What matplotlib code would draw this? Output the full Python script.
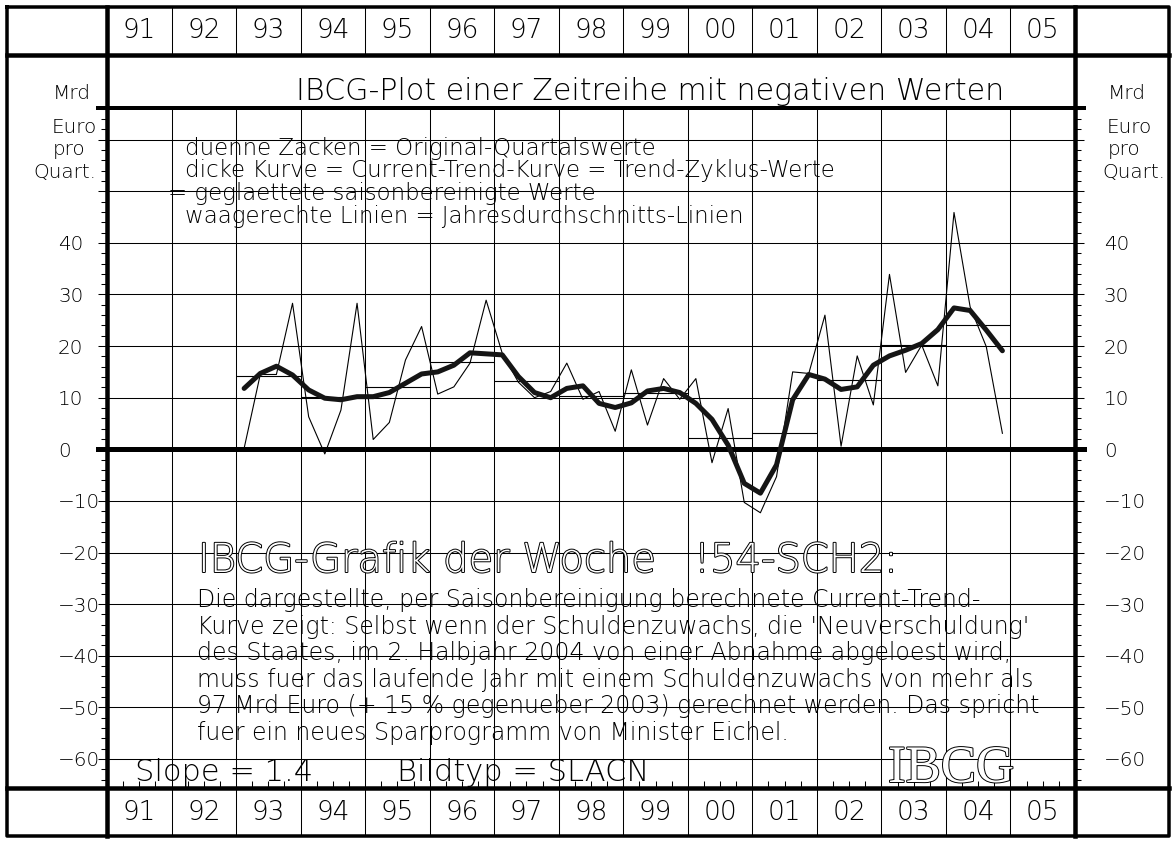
import numpy as np
import matplotlib
matplotlib.use('Agg')
import matplotlib.pyplot as plt
import matplotlib.patheffects as pe
from matplotlib import font_manager as fm
from matplotlib.lines import Line2D

# ---- data (Mrd Euro per quarter) ----
year_labels = ['91', '92', '93', '94', '95', '96', '97', '98', '99',
               '00', '01', '02', '03', '04', '05']
first_year = 1991
data_start = 1993

# thin line: original quarterly values 1993Q1 .. 2004Q4
orig = [0.2, 14.5, 14.5, 28.3,
        6.3, -0.9, 7.6, 28.3,
        1.9, 5.2, 17.3, 23.8,
        10.7, 12.1, 16.7, 28.9,
        18.6, 13.0, 10.0, 11.2,
        16.7, 9.7, 11.2, 3.5,
        15.4, 4.7, 13.7, 9.7,
        13.7, -2.6, 7.9, -10.3,
        -12.3, -5.3, 15.0, 14.7,
        26.0, 0.6, 18.1, 8.6,
        33.9, 14.9, 20.2, 12.3,
        45.9, 27.6, 19.9, 3.1]

# thick line: current trend curve
trend = [11.8, 14.7, 16.1, 14.4,
         11.5, 9.9, 9.6, 10.2,
         10.2, 11.0, 12.8, 14.6,
         15.0, 16.3, 18.7, 18.5,
         18.3, 14.1, 11.0, 10.0,
         11.8, 12.3, 8.9, 8.1,
         9.0, 11.3, 11.8, 11.0,
         8.9, 5.8, 0.8, -6.6,
         -8.5, -3.0, 9.6, 14.5,
         13.6, 11.6, 12.1, 16.3,
         18.1, 19.2, 20.5, 23.2,
         27.4, 26.9, 23.1, 19.1]

# annual averages
avg_years = [1993, 1994, 1995, 1996, 1997, 1998, 1999, 2000, 2001, 2002, 2003, 2004]
avg_vals = [14.3, 10.2, 12.0, 17.0, 13.3, 10.3, 10.9, 2.2, 3.1, 13.4, 20.2, 24.0]

ytick_vals = [-60, -50, -40, -30, -20, -10, 0, 10, 20, 30, 40, 50, 60]
ytick_labels = ['\u221260', '\u221250', '\u221240', '\u221230', '\u221220', '\u221210',
                '0', '10', '20', '30', '40', '', '']

legend_lines = ['duenne Zacken = Original-Quartalswerte',
                'dicke Kurve = Current-Trend-Kurve = Trend-Zyklus-Werte',
                '= geglaettete saisonbereinigte Werte',
                'waagerechte Linien = Jahresdurchschnitts-Linien']

body_lines = ['Die dargestellte, per Saisonbereinigung berechnete Current-Trend-',
              "Kurve zeigt: Selbst wenn der Schuldenzuwachs, die 'Neuverschuldung'",
              'des Staates, im 2. Halbjahr 2004 von einer Abnahme abgeloest wird,',
              'muss fuer das laufende Jahr mit einem Schuldenzuwachs von mehr als',
              '97 Mrd Euro (+ 15 % gegenueber 2003) gerechnet werden. Das spricht',
              'fuer ein neues Sparprogramm von Minister Eichel.']

unit_lines = ['Mrd', 'Euro', 'pro', 'Quart.']

# ---- layout helpers (pixel -> figure fraction) ----
W, H = 1176, 841
PT = 0.72  # points per pixel at dpi 100


def fx(x):
    return x / W


def fy(y):
    return 1 - y / H


def pick_light_font():
    # thin CAD-like look: take a light weight of an installed sans family if present
    for name in ['DejaVu Sans', 'Roboto', 'Lato', 'Open Sans', 'Noto Sans', 'Inter']:
        for f in fm.fontManager.ttflist:
            w = f.weight
            if isinstance(w, str):
                w = fm.weight_dict.get(w, 400)
            if f.name == name and w <= 300 and f.style == 'normal' \
                    and 'ondensed' not in f.fname:
                return name, w
    return 'DejaVu Sans', 'normal'


def main():
    fam, wgt = pick_light_font()
    plt.rcParams['font.family'] = [fam, 'DejaVu Sans']
    plt.rcParams['font.weight'] = wgt

    fig = plt.figure(figsize=(W / 100, H / 100), dpi=100)
    fig.patch.set_facecolor('white')

    def fline(xs, ys, lw_px):
        fig.add_artist(Line2D([fx(x) for x in xs], [fy(y) for y in ys],
                              transform=fig.transFigure, color='black',
                              lw=lw_px * PT, solid_capstyle='projecting', zorder=10))

    x0, x1 = 107, 1075
    ytop, ybot = 108, 788
    y_zero, px_per_unit = 449.3, 5.16
    last_year = first_year + len(year_labels)
    boundaries = list(range(first_year + 1, last_year))

    # ---- main plot axes ----
    ax = fig.add_axes([fx(x0), fy(ybot), (x1 - x0) / W, (ybot - ytop) / H])
    ax.set_xlim(first_year, last_year)
    ax.set_ylim((y_zero - ybot) / px_per_unit, (y_zero - ytop) / px_per_unit)
    for s in ax.spines.values():
        s.set_visible(False)
    ax.patch.set_alpha(0)

    ax.set_xticks(boundaries)
    ax.set_xticklabels([])
    quarters = [first_year + i / 4 for i in range(len(year_labels) * 4) if i % 4]
    ax.set_xticks(quarters, minor=True)
    ax.tick_params(axis='x', which='major', length=0)
    ax.tick_params(axis='x', which='minor', direction='in', length=7 * PT,
                   width=0.75, bottom=True, top=False)

    minor_y = list(range(-64, 67, 2))
    ax.set_yticks(ytick_vals, labels=ytick_labels)
    ax.set_yticks(minor_y, minor=True)
    ax.tick_params(axis='y', which='major', direction='out', length=9 * PT, width=0.75,
                   left=True, right=False, labelsize=14.4, pad=(107 - 9 - 58) * PT)
    ax.tick_params(axis='y', which='minor', direction='out', length=6 * PT, width=0.75,
                   left=True, right=False)
    for lab in ax.get_yticklabels():
        lab.set_horizontalalignment('left')
    ax.grid(True, which='major', color='black', lw=0.75)

    axr = ax.twinx()
    axr.set_ylim(ax.get_ylim())
    for s in axr.spines.values():
        s.set_visible(False)
    axr.set_yticks(ytick_vals, labels=ytick_labels)
    axr.set_yticks(minor_y, minor=True)
    axr.tick_params(axis='y', which='major', direction='out', length=9 * PT, width=0.75,
                    labelsize=14.4, pad=(1104 - 1075 - 9) * PT)
    axr.tick_params(axis='y', which='minor', direction='out', length=6 * PT, width=0.75)

    # zero line, thick, a bit past both axes
    ext = 9 / (x1 - x0)
    ax.axhline(0, xmin=-ext, xmax=1 + ext, color='black', lw=5 * PT,
               clip_on=False, zorder=4)

    # data
    xq = [data_start + (i + 0.5) / 4 for i in range(len(orig))]
    ax.plot(xq, orig, color='black', lw=0.8, zorder=5)
    ax.hlines(avg_vals, avg_years, [y + 1 for y in avg_years], color='black',
              lw=0.8, zorder=5)
    ax.plot(xq, trend, color='#151515', lw=5 * PT, solid_joinstyle='round',
            solid_capstyle='round', zorder=6)

    # ---- year strips (top and bottom) ----
    for ya, yb in [(7, 55), (788, 836)]:
        axs = fig.add_axes([fx(x0), fy(yb), (x1 - x0) / W, (yb - ya) / H])
        axs.set_xlim(first_year, last_year)
        axs.set_ylim(0, 1)
        axs.axis('off')
        axs.vlines(boundaries, 0, 1, color='black', lw=0.75)
        for i, lab in enumerate(year_labels):
            axs.text(first_year + i + 0.5, 0.5, lab, ha='center', va='center',
                     fontsize=19)

    # ---- frame ----
    fline([7, 1169, 1169, 7, 7], [7, 7, 836, 836, 7], 3.5)
    fline([107, 107], [7, 836], 4.5)
    fline([1075, 1075], [7, 836], 4.5)
    fline([7, 1169], [55, 55], 4.5)
    fline([7, 1169], [788, 788], 4.5)
    fline([98, 1084], [108, 108], 4)

    # ---- texts ----
    fig.text(fx(650), fy(92), 'IBCG-Plot einer Zeitreihe mit negativen Werten',
             ha='center', va='center', fontsize=21.7)

    unit_y = [99, 133, 155, 178]
    left_x = [53, 52, 53, 33]
    right_x = [1108, 1107, 1108, 1102]
    for t, yb, xl, xr in zip(unit_lines, unit_y, left_x, right_x):
        fig.text(fx(xl), fy(yb), t, ha='left', va='baseline', fontsize=14.4)
        fig.text(fx(xr), fy(yb), t, ha='left', va='baseline', fontsize=14.4)

    leg_x = [185, 185, 168, 185]
    leg_y = [155, 177, 200, 223]
    for t, xl, yb in zip(legend_lines, leg_x, leg_y):
        fig.text(fx(xl), fy(yb), t, ha='left', va='baseline', fontsize=16.5, zorder=7)

    hollow = [pe.withStroke(linewidth=1.4, foreground='black')]
    fig.text(fx(198), fy(572), 'IBCG-Grafik der Woche   !54-SCH2:', ha='left',
             va='baseline', fontsize=28.8, color='white', path_effects=hollow, zorder=7)

    for i, t in enumerate(body_lines):
        fig.text(fx(197), fy(607 + 26.6 * i), t, ha='left', va='baseline',
                 fontsize=17, zorder=7)

    fig.text(fx(135), fy(781), 'Slope = 1.4', ha='left', va='baseline',
             fontsize=22, zorder=7)
    fig.text(fx(397), fy(781), 'Bildtyp = SLACN', ha='left', va='baseline',
             fontsize=22, zorder=7)
    fig.text(fx(951), fy(782), 'IBCG', ha='center', va='baseline',
             fontsize=38, family='Liberation Serif', weight='normal', color='white',
             path_effects=hollow, zorder=7)

    fig.savefig('out.png', dpi=100, facecolor='white')


if __name__ == "__main__":
    main()
